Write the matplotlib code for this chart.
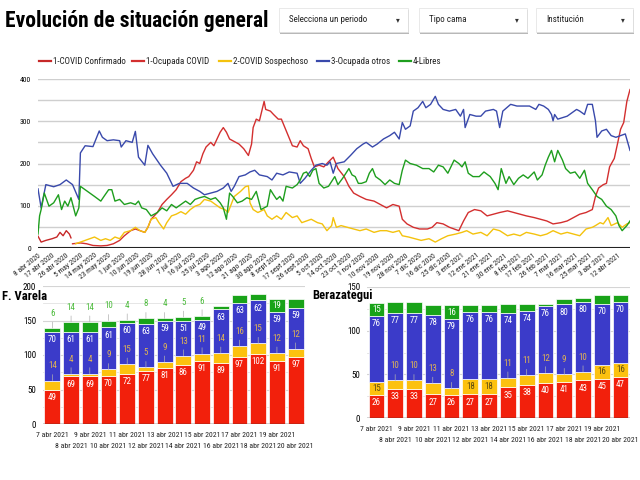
import numpy as np
import pandas as pd
import matplotlib
matplotlib.use('Agg')
import matplotlib.pyplot as plt
from matplotlib.patches import Rectangle
from matplotlib.lines import Line2D

plt.rcParams['font.family'] = ['Roboto Condensed', 'DejaVu Sans']
plt.rcParams['font.stretch'] = 'condensed'

START = pd.Timestamp('2020-04-08')
MESES = ['ene', 'feb', 'mar', 'abr', 'may', 'jun', 'jul', 'ago', 'sept', 'oct', 'nov', 'dic']

# line chart: days counted from 8 abr 2020
conf_days = [0, 2, 5, 9, 12, 14, 16, 18, 20, 21]
conf_vals = [28, 14, 18, 22, 26, 37, 29, 41, 33, 24]

ocup_days = [22, 27, 31, 35, 40, 44, 48, 52, 55, 59, 62, 65, 68, 70, 72, 76, 79, 82, 85, 88,
             91, 94, 96, 99, 101, 103, 105, 107, 110, 112, 114, 116, 118, 120, 122, 124, 128, 131, 134, 136,
             137, 139, 141, 144, 145, 148, 150, 153, 155, 158, 162, 165, 167, 169, 172, 174, 176, 179, 182, 185,
             188, 191, 195, 198, 201, 205, 209, 214, 218, 222, 226, 230, 232, 235, 239, 243, 248, 251, 254, 258,
             262, 268, 271, 274, 278, 282, 286, 290, 294, 299, 303, 307, 311, 316, 320, 324, 328, 333, 337, 341,
             345, 349, 353, 355, 357, 360, 362, 364, 367, 369, 371, 373, 375, 377]
ocup_vals = [10, 12, 10, 6, 5, 6, 10, 18, 29, 41, 45, 41, 37, 49, 68, 84, 103, 115, 126, 138,
             157, 165, 169, 184, 204, 200, 223, 239, 250, 242, 258, 274, 285, 274, 258, 254, 246, 235, 219, 246,
             285, 305, 301, 347, 328, 324, 316, 305, 305, 278, 242, 239, 254, 242, 235, 212, 192, 196, 192, 204,
             215, 188, 169, 146, 130, 122, 115, 111, 103, 95, 103, 99, 68, 57, 49, 45, 45, 49, 60, 57,
             49, 41, 64, 84, 91, 88, 76, 80, 84, 88, 84, 80, 76, 72, 68, 64, 57, 60, 64, 72,
             80, 84, 91, 122, 142, 150, 153, 192, 212, 246, 281, 297, 347, 375]

sosp_days = [24, 27, 30, 33, 36, 40, 43, 46, 49, 52, 55, 59, 62, 65, 68, 70, 72, 75, 77, 80,
             82, 85, 88, 91, 94, 97, 100, 103, 106, 110, 113, 116, 119, 121, 123, 125, 129, 132, 134, 135,
             137, 140, 144, 146, 149, 152, 155, 158, 162, 165, 168, 171, 174, 178, 181, 184, 187, 188, 190, 193,
             197, 201, 205, 209, 214, 218, 222, 226, 230, 232, 236, 240, 244, 249, 253, 257, 261, 266, 270, 273,
             277, 282, 286, 290, 294, 299, 303, 307, 311, 316, 320, 324, 328, 333, 337, 341, 345, 349, 353, 355,
             358, 360, 363, 365, 369, 372, 375, 377]
sosp_vals = [10, 14, 18, 22, 26, 18, 22, 18, 26, 22, 37, 41, 49, 41, 37, 49, 68, 72, 60, 45,
             60, 76, 80, 86, 80, 91, 99, 103, 115, 111, 103, 95, 91, 84, 103, 122, 134, 145, 147, 107,
             91, 84, 91, 76, 68, 76, 68, 84, 72, 76, 60, 64, 68, 60, 57, 41, 53, 72, 49, 53,
             49, 45, 41, 45, 37, 41, 41, 37, 41, 29, 26, 22, 18, 22, 14, 22, 29, 33, 37, 41,
             33, 37, 29, 45, 41, 29, 33, 29, 37, 33, 29, 33, 41, 33, 37, 33, 29, 45, 49, 53,
             60, 57, 72, 53, 60, 49, 57, 60]

otros_days = [0, 2, 5, 10, 14, 18, 22, 26, 27, 30, 35, 39, 41, 44, 48, 52, 53, 56, 60, 62,
              64, 68, 70, 73, 78, 82, 86, 90, 95, 99, 103, 106, 110, 114, 118, 121, 123, 125, 128, 132,
              135, 138, 141, 146, 149, 152, 156, 160, 165, 167, 170, 174, 177, 181, 184, 186, 188, 190, 195, 199,
              203, 207, 209, 213, 216, 220, 224, 227, 230, 232, 234, 237, 239, 242, 245, 247, 250, 253, 255, 258,
              262, 266, 269, 271, 272, 275, 279, 282, 285, 290, 292, 294, 296, 301, 305, 309, 313, 317, 319, 322,
              325, 327, 328, 329, 331, 337, 340, 343, 345, 348, 350, 353, 355, 356, 359, 362, 365, 368, 371, 374,
              377]
otros_vals = [140, 95, 150, 145, 150, 161, 150, 115, 225, 242, 240, 277, 262, 254, 256, 254, 239, 254, 250, 276,
              215, 196, 243, 223, 196, 177, 146, 153, 153, 142, 134, 126, 130, 134, 142, 153, 134, 146, 169, 173,
              180, 184, 173, 169, 161, 177, 173, 180, 177, 153, 165, 184, 196, 200, 196, 204, 177, 200, 204, 219,
              235, 246, 250, 239, 246, 258, 266, 274, 258, 297, 281, 289, 324, 332, 347, 332, 340, 359, 340, 328,
              324, 328, 312, 328, 285, 316, 312, 312, 324, 328, 324, 285, 324, 340, 336, 336, 336, 328, 340, 336,
              328, 316, 301, 316, 305, 312, 320, 328, 324, 316, 340, 340, 301, 262, 277, 281, 266, 262, 266, 270,
              231]

libres_days = [0, 1, 2, 4, 7, 10, 13, 15, 17, 19, 21, 24, 26, 27, 30, 33, 36, 40, 42, 45,
               47, 49, 52, 55, 59, 62, 64, 66, 69, 72, 76, 79, 82, 85, 88, 91, 94, 97, 100, 103,
               106, 110, 113, 116, 118, 120, 122, 124, 127, 130, 133, 136, 139, 142, 146, 148, 150, 152, 154, 156,
               158, 162, 165, 167, 169, 171, 173, 175, 177, 179, 182, 185, 189, 191, 194, 198, 200, 202, 204, 206,
               209, 211, 213, 215, 218, 221, 224, 227, 230, 232, 234, 237, 241, 245, 249, 252, 255, 258, 261, 265,
               268, 270, 272, 274, 277, 281, 284, 288, 291, 293, 295, 298, 300, 303, 306, 309, 312, 316, 318, 321,
               323, 325, 327, 329, 331, 334, 336, 339, 342, 345, 348, 350, 353, 356, 359, 362, 365, 368, 370, 372,
               375, 377]
libres_vals = [33, 76, 91, 130, 99, 107, 126, 91, 111, 99, 119, 76, 95, 146, 138, 130, 122, 111, 122, 138,
               138, 111, 115, 103, 107, 103, 111, 95, 91, 76, 84, 95, 88, 103, 95, 103, 111, 103, 115, 119,
               122, 115, 119, 107, 95, 68, 130, 122, 107, 111, 119, 115, 134, 91, 99, 138, 126, 115, 122, 111,
               146, 142, 150, 161, 177, 180, 169, 184, 188, 153, 142, 146, 169, 150, 165, 188, 173, 169, 153, 153,
               157, 177, 188, 169, 161, 150, 161, 153, 150, 184, 208, 200, 196, 188, 188, 180, 196, 192, 177, 208,
               200, 192, 204, 177, 169, 169, 180, 169, 153, 138, 188, 153, 169, 150, 165, 173, 165, 180, 161, 173,
               196, 215, 231, 204, 231, 208, 188, 177, 180, 165, 184, 153, 138, 122, 115, 99, 91, 76, 53, 41,
               53, 64]

series_names = ['1-COVID Confirmado', '1-Ocupada COVID', '2-COVID Sospechoso', '3-Ocupada otros', '4-Libres']
line_colors = ['#c62828', '#d32f2f', '#f4c20d', '#3949ab', '#1e9e1e']

# bar charts, 7 abr 2021 .. 20 abr 2021
bar_dates = pd.date_range('2021-04-07', '2021-04-20')
varela_covid = [49, 69, 69, 70, 72, 77, 81, 86, 91, 89, 97, 102, 91, 97]
varela_sosp = [14, 4, 4, 9, 15, 5, 9, 13, 11, 14, 16, 15, 12, 12]
varela_otros = [70, 61, 61, 61, 60, 63, 59, 51, 49, 63, 63, 62, 59, 59]
varela_libres = [6, 14, 14, 10, 4, 8, 4, 5, 6, 5, 11, 10, 19, 13]

bera_covid = [26, 33, 33, 27, 26, 27, 27, 35, 38, 40, 41, 43, 45, 47]
bera_sosp = [15, 10, 10, 13, 8, 18, 18, 11, 11, 12, 9, 10, 16, 16]
bera_otros = [76, 77, 77, 78, 79, 76, 76, 74, 74, 76, 80, 80, 70, 70]
bera_libres = [15, 13, 13, 11, 16, 8, 8, 10, 8, 3, 6, 4, 10, 8]

bar_colors = ['#f2200c', '#fcc10f', '#3b3bc9', '#19a319']

W, H = 640, 480


def fx(px):
    return px / W


def fy(py):
    return 1 - py / H


def fecha(d):
    return f'{d.day} {MESES[d.month - 1]} {d.year}'


fig = plt.figure(figsize=(6.4, 4.8), dpi=100)
fig.patch.set_facecolor('white')

# header
fig.text(fx(5), fy(21), 'Evolución de situación general', fontsize=15.5, fontweight='bold',
         ha='left', va='center')
for x0, x1, label in [(279, 408, 'Selecciona un periodo'), (419, 527, 'Tipo cama'),
                      (536, 633, 'Institución')]:
    fig.add_artist(Rectangle((fx(x0 + 1), fy(34)), (x1 - x0) / W, 24 / H, transform=fig.transFigure,
                             facecolor='#b8b8b8', edgecolor='none'))
    fig.add_artist(Rectangle((fx(x0), fy(32)), (x1 - x0) / W, 24 / H, transform=fig.transFigure,
                             facecolor='white', edgecolor='#e0e0e0', lw=0.5))
    fig.text(fx(x0 + 10), fy(20), label, fontsize=6.5, va='center', color='#222222')
    fig.text(fx(x1 - 12), fy(20), '▾', fontsize=6, va='center', color='#333333')

# legend
for name, col, lx in zip(series_names, line_colors, [39, 132, 219, 317, 399]):
    fig.add_artist(Line2D([fx(lx), fx(lx + 12)], [fy(61), fy(61)], color=col, lw=1.6,
                          transform=fig.transFigure))
    fig.text(fx(lx + 14), fy(61), name, fontsize=6.5, va='center', color='#222222')

# main line chart
ax = fig.add_axes([fx(38), fy(248), (630 - 38) / W, (248 - 79) / H])
line_data = [(conf_days, conf_vals), (ocup_days, ocup_vals), (sosp_days, sosp_vals),
             (otros_days, otros_vals), (libres_days, libres_vals)]
for (days, vals), col in zip(line_data, line_colors):
    ax.plot(START + pd.to_timedelta(days, unit='D'), vals, color=col, lw=1.0)
ax.set_xlim(START, START + pd.Timedelta(days=377))
ax.set_ylim(0, 400)
ax.set_yticks(range(0, 401, 100))
ax.set_yticks(range(0, 401, 50), minor=True)
ax.grid(axis='y', which='both', color='#cfcfcf', lw=1.0)
ax.set_axisbelow(True)
ax.axhline(0, color='#222222', lw=1.5)
tick_dates = pd.date_range(START, periods=42, freq='9D')
ax.set_xticks(tick_dates)
ax.set_xticklabels([fecha(d) for d in tick_dates], rotation=38, ha='right',
                   rotation_mode='anchor', fontsize=5.5, color='#222222')
ax.tick_params(which='both', length=0)
ax.tick_params(axis='y', labelsize=5.5, pad=5)
ax.tick_params(axis='x', pad=3)
for s in ax.spines.values():
    s.set_visible(False)


def bar_panel(rect, covid, sosp, otros, libres, ymax, title, title_x, green_out):
    bx = fig.add_axes(rect)
    x = np.arange(len(covid))
    layers = [covid, sosp, otros, libres]
    bottom = np.zeros(len(covid))
    ppu = rect[3] * H / ymax  # pixels per unit
    for k, (vals, col) in enumerate(zip(layers, bar_colors)):
        vals = np.array(vals, dtype=float)
        bx.bar(x, vals, bottom=bottom, width=0.84, color=col, edgecolor='white', lw=0.5)
        top = bottom + vals
        for i in range(len(x)):
            txt = str(int(vals[i]))
            big = vals[i] * ppu >= 12
            if k in (0, 2):
                bx.annotate(txt, (x[i], top[i]), xytext=(0, -5.5), textcoords='offset points',
                            ha='center', va='center', color='white', fontsize=6.5)
            elif big:
                bx.annotate(txt, (x[i], bottom[i] + vals[i] / 2), ha='center', va='center',
                            color='#5b4a12' if k == 1 else 'white', fontsize=6.5)
            elif k == 1 or green_out:
                an = bx.annotate(txt, (x[i], top[i]), xytext=(0, 10.5), textcoords='offset points',
                                 ha='center', va='center', fontsize=6.5,
                                 color='#e2b552' if k == 1 else '#4cbb3c',
                                 arrowprops=dict(arrowstyle='-', color='#b0b0b0', lw=0.5,
                                                 shrinkA=1, shrinkB=0))
                an.set_clip_on(True)
                if top[i] + 21 / ppu > ymax:
                    an.set_visible(False)
        bottom = top
    bx.set_xlim(-0.5, len(x) - 0.5)
    bx.set_ylim(0, ymax)
    bx.set_yticks(range(0, ymax + 1, 50))
    bx.grid(axis='y', color='#d5d5d5', lw=0.8)
    for yv in range(25, ymax, 50):
        bx.axhline(yv, color='#e2e2e2', lw=0.6, zorder=0)
    bx.set_axisbelow(True)
    bx.axhline(0, color='#333333', lw=1.0)
    # two rows of date labels: even bars on the first row, odd bars below
    bx.set_xticks(x[::2])
    bx.set_xticklabels([fecha(d) for d in bar_dates[::2]], fontsize=5.6, color='#222222')
    bx.set_xticks(x[1::2], minor=True)
    bx.set_xticklabels([fecha(d) for d in bar_dates[1::2]], minor=True, fontsize=5.6, color='#222222')
    bx.tick_params(which='both', length=0)
    bx.tick_params(axis='y', labelsize=6.5, pad=5)
    bx.tick_params(axis='x', which='major', pad=6)
    bx.tick_params(axis='x', which='minor', pad=14)
    for s in bx.spines.values():
        s.set_visible(False)
    fig.text(fx(title_x), fy(296), title, fontsize=9, fontweight='bold', ha='left', va='center')
    return bx


bar_panel([fx(43), fy(424), (305 - 43) / W, (424 - 286) / H],
          varela_covid, varela_sosp, varela_otros, varela_libres, 200, 'F. Varela', 2, True)
bar_panel([fx(367), fy(418), (630 - 367) / W, (418 - 287) / H],
          bera_covid, bera_sosp, bera_otros, bera_libres, 150, 'Berazategui', 312, False)

fig.savefig('out.png', dpi=100, facecolor='white')
